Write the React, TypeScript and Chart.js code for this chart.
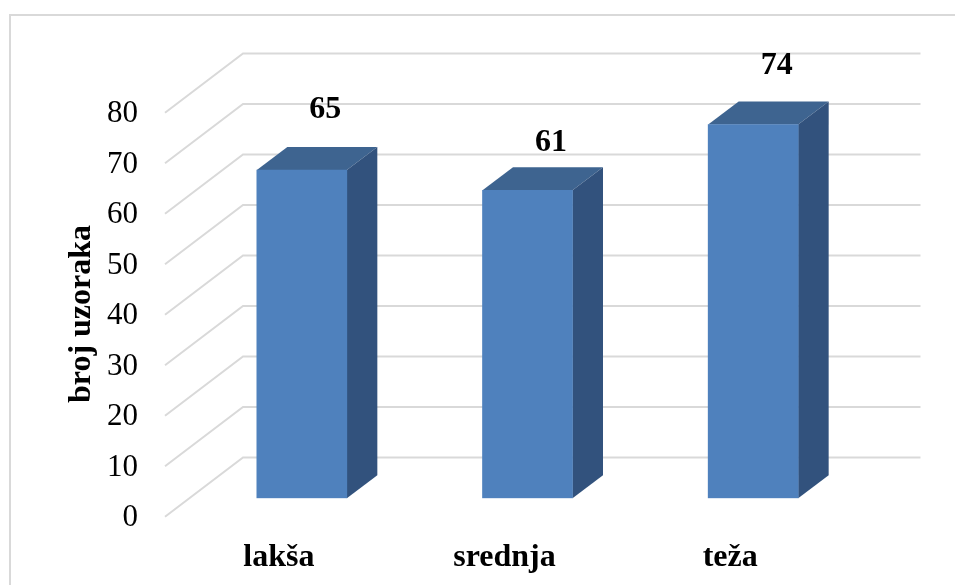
import React, { useEffect, useRef } from "react";
import { Chart, registerables } from "chart.js";

Chart.register(...registerables);

const categories = ["lakša", "srednja", "teža"];
const sampleCounts = [65, 61, 74];
const yTicks = [0, 10, 20, 30, 40, 50, 60, 70, 80];
const yTitle = "broj uzoraka";

const SERIF = "'Liberation Serif', 'Times New Roman', serif";
const FRONT = "#4F81BD";
const TOP = "#3E6490";
const SIDE = "#32527D";
const GRID = "#D9D9D9";
const BAR_DX = 30.5;
const BAR_DY = 23;
const LABEL_LIFT = [60, 48, 59];

const plot3d = {
  id: "plot3d",
  beforeDraw(chart: any) {
    const { ctx, canvas } = chart;
    ctx.save();
    ctx.strokeStyle = GRID;
    ctx.lineWidth = 2;
    ctx.beginPath();
    ctx.moveTo(canvas.width, 15);
    ctx.lineTo(10, 15);
    ctx.lineTo(10, canvas.height);
    ctx.stroke();
    ctx.restore();
  },
  beforeDatasetsDraw(chart: any) {
    const { ctx, chartArea, scales } = chart;
    const y = scales.y;
    ctx.save();
    ctx.strokeStyle = GRID;
    ctx.lineWidth = 2;
    for (const t of yTicks) {
      const p = y.getPixelForValue(t);
      ctx.beginPath();
      ctx.moveTo(chartArea.left - 24, p + 18.5);
      ctx.lineTo(chartArea.left + 54, p - 40.8);
      ctx.lineTo(920.5, p - 40.8);
      ctx.stroke();
    }
    const bars = chart.getDatasetMeta(0).data;
    for (const b of bars) {
      const l = b.x - b.width / 2;
      const r = b.x + b.width / 2;
      ctx.fillStyle = TOP;
      ctx.beginPath();
      ctx.moveTo(l, b.y);
      ctx.lineTo(l + BAR_DX, b.y - BAR_DY);
      ctx.lineTo(r + BAR_DX, b.y - BAR_DY);
      ctx.lineTo(r, b.y);
      ctx.closePath();
      ctx.fill();
      ctx.fillStyle = SIDE;
      ctx.beginPath();
      ctx.moveTo(r, b.y);
      ctx.lineTo(r + BAR_DX, b.y - BAR_DY);
      ctx.lineTo(r + BAR_DX, b.base - BAR_DY);
      ctx.lineTo(r, b.base);
      ctx.closePath();
      ctx.fill();
    }
    ctx.restore();
  },
  afterDatasetsDraw(chart: any) {
    const { ctx } = chart;
    const bars = chart.getDatasetMeta(0).data;
    ctx.save();
    ctx.fillStyle = "#000";
    ctx.textAlign = "center";
    ctx.textBaseline = "middle";
    ctx.font = `bold 32px ${SERIF}`;
    bars.forEach((b: any, i: number) => {
      ctx.fillText(String(sampleCounts[i]), b.x + 23.5, b.y - LABEL_LIFT[i]);
    });
    ctx.translate(82, 314);
    ctx.rotate(-Math.PI / 2);
    ctx.font = `bold 32px ${SERIF}`;
    ctx.fillText(yTitle, 0, 0);
    ctx.restore();
  },
};

export default function App() {
  const ref = useRef<HTMLCanvasElement>(null);
  useEffect(() => {
    const chart = new Chart(ref.current!, {
      type: "bar",
      data: {
        labels: categories,
        datasets: [
          {
            data: sampleCounts,
            backgroundColor: FRONT,
            barThickness: 90,
          },
        ],
      },
      options: {
        animation: false,
        responsive: false,
        layout: { padding: { top: 94.3, right: 89, left: 0, bottom: 0 } },
        plugins: { legend: { display: false }, tooltip: { enabled: false } },
        scales: {
          x: {
            grid: { display: false },
            border: { display: false },
            ticks: {
              color: "#000",
              font: { family: SERIF, size: 32, weight: "bold" },
              padding: 32,
              labelOffset: -23,
              maxRotation: 0,
            },
            afterFit: (s: any) => {
              s.height = 86.7;
            },
          },
          y: {
            min: 0,
            max: 80,
            grid: { display: false },
            border: { display: false },
            afterFit: (s: any) => {
              s.width = 189;
            },
            ticks: {
              color: "#000",
              stepSize: 10,
              font: { family: SERIF, size: 31 },
              padding: 43,
              labelOffset: 20,
            },
          },
        },
      },
      plugins: [plot3d],
    } as any);
    return () => chart.destroy();
  }, []);
  return (
    <canvas
      ref={ref}
      width={955}
      height={585}
      style={{ position: "fixed", left: 0, top: 0, width: 955, height: 585, background: "#fff" }}
    />
  );
}
